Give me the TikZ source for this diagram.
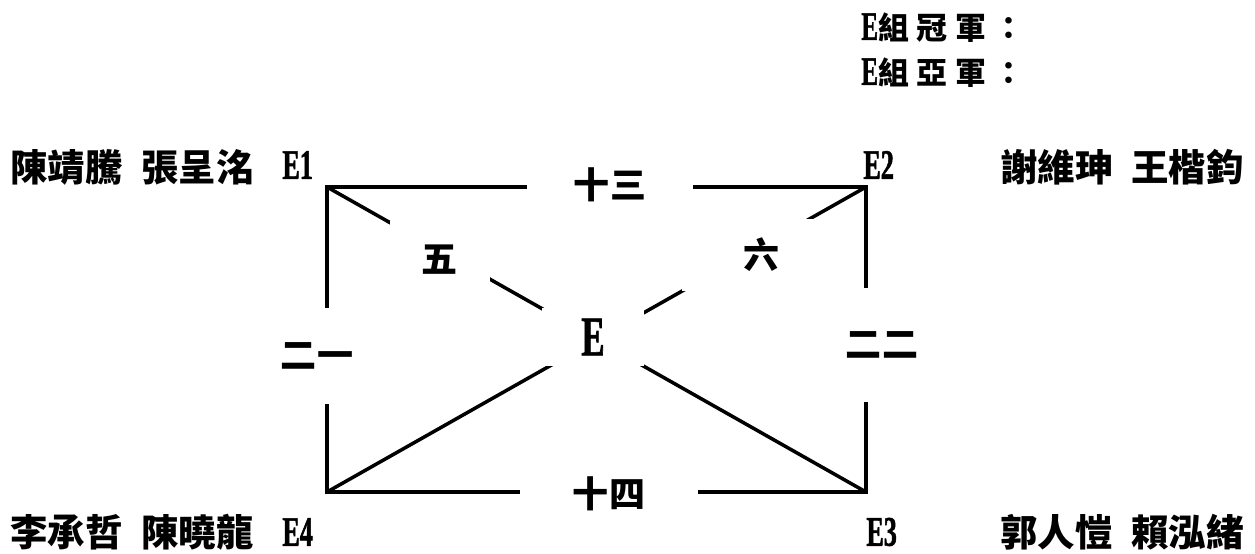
\documentclass[tikz,border=0pt]{standalone}
\usepackage{fontspec}
\setmainfont{Noto Sans CJK TC}
\newfontfamily\latn{Liberation Serif Bold}[FakeStretch=0.62, FakeBold=1.2]
\newfontfamily\cjkwide{Noto Sans CJK TC}[LetterSpace=25]
\usetikzlibrary{positioning}

\begin{document}
\begin{tikzpicture}[
  x=0.02cm, y=-0.02cm,
  edge/.style={line width=2pt},
  gapbox/.style={fill=white, inner sep=0pt, font=\bfseries\fontsize{20.5}{24}\selectfont},
  player/.style={anchor=west, inner sep=0pt, font=\bfseries\fontsize{21.3}{24}\selectfont},
  seat/.style={anchor=west, inner sep=0pt, font=\latn\fontsize{24}{26}\selectfont},
  winner/.style={anchor=west, inner sep=0pt, font=\cjkwide\bfseries\fontsize{17.6}{22}\selectfont}
]
\useasboundingbox (0,0) rectangle (1255,554);

\node[winner] (champ) at (861,28) {{\latn\fontsize{23}{24}\selectfont E}組冠軍：};
\node[winner] (second) at (861,73) {{\latn\fontsize{23}{24}\selectfont E}組亞軍：};

\coordinate (e1) at (327,187);
\coordinate (e2) at (866,187);
\coordinate (e3) at (866,492);
\coordinate (e4) at (327,492);

\draw[edge] (e1) -- (e2) -- (e3) -- (e4) -- cycle;
\draw[edge] (e1) -- (e3);
\draw[edge] (e2) -- (e4);

\node[gapbox, minimum width=3.32cm, minimum height=0.8cm] (m13) at (610,185) {十三};
\node[gapbox, minimum width=3.56cm, minimum height=0.8cm] (m14) at (609,494) {十四};
\node[gapbox, minimum width=2.0cm, minimum height=1.56cm] (m5) at (440,260) {五};
\node[gapbox, minimum width=3.2cm, minimum height=1.44cm] (m6) at (762,255) {六};
\node[gapbox, minimum width=1.8cm, minimum height=1.94cm] (m21) at (317,356) {二一};
\node[gapbox, minimum width=1.8cm, minimum height=2.28cm] (m22) at (882,345) {二二};
\node[gapbox, minimum width=2.04cm, minimum height=1.18cm,
      font=\latn\fontsize{32}{34}\selectfont] (grp) at (593,337) {E};

\node[seat] (s1) at (282,165) {E1};
\node[seat] (s2) at (863,165) {E2};
\node[seat] (s3) at (866,532) {E3};
\node[seat] (s4) at (282,532) {E4};

\node[player] (p1) at (10,167) {陳靖騰\hspace{.5em}張呈洺};
\node[player] (p2) at (1000,167) {謝維珅\hspace{.5em}王楷鈞};
\node[player] (p3) at (1000,532) {郭人愷\hspace{.5em}賴泓緒};
\node[player] (p4) at (10,532) {李承哲\hspace{.5em}陳曉龍};

\end{tikzpicture}
\end{document}
